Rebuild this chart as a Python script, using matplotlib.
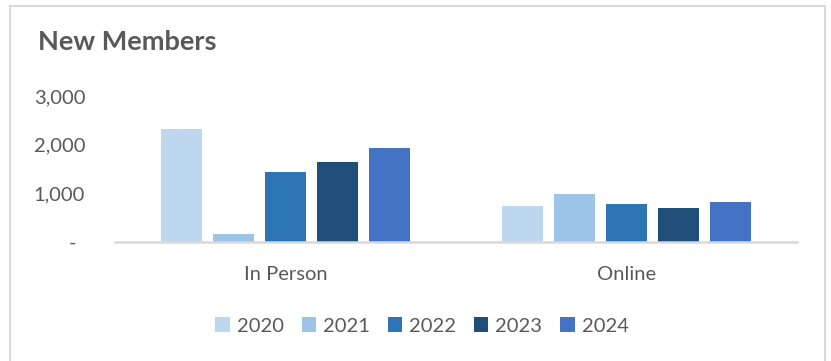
import matplotlib.pyplot as plt
import matplotlib.transforms as mtransforms
import numpy as np
from matplotlib.patches import Rectangle

# donnees
categories = ['In Person', 'Online']
years = ['2020', '2021', '2022', '2023', '2024']
members = {
    '2020': [2320, 740],
    '2021': [165, 980],
    '2022': [1440, 775],
    '2023': [1640, 700],
    '2024': [1930, 830],
}
colors = ['#BDD7EE', '#9DC3E6', '#2E75B6', '#1F4E79', '#4472C4']
yticks = [0, 1000, 2000, 3000]

plt.rcParams['font.family'] = ['Lato', 'DejaVu Sans']
gray = '#595959'
fs = 14.5

W, H = 831, 361
fig = plt.figure(figsize=(W / 100, H / 100), dpi=100)

# cadre du graphique
fig.patches.append(Rectangle((10 / W, -0.05), 815 / W, 1.05 - 6 / H,
                             transform=fig.transFigure, fill=False,
                             edgecolor='#D9D9D9', linewidth=1.5))

ax = fig.add_axes([115 / W, 119 / H, 682 / W, 146 / H])

x = np.arange(len(categories))
slot = 0.1525
width = 0.123
for i, year in enumerate(years):
    offset = (i - 2) * slot
    ax.bar(x + offset, members[year], width, color=colors[i], label=year)

ax.set_xlim(-0.5, 1.5)
ax.set_ylim(0, 3000)
ax.set_xticks(x)
ax.set_xticklabels(categories)
ax.set_yticks(yticks)
ax.set_yticklabels(['-' if v == 0 else f'{v:,}' for v in yticks])
ax.tick_params(axis='both', length=0, labelsize=fs, labelcolor=gray)
ax.tick_params(axis='x', pad=17)
ax.tick_params(axis='y', pad=21.5)
for s in ['top', 'right', 'left']:
    ax.spines[s].set_visible(False)
ax.spines['bottom'].set_color('#D9D9D9')
ax.spines['bottom'].set_linewidth(1.8)

# le tiret du zero est decale vers la gauche (format comptable)
zero_lbl = ax.get_yticklabels()[0]
zero_lbl.set_transform(zero_lbl.get_transform() +
                       mtransforms.ScaledTranslation(-9 / 100, 0, fig.dpi_scale_trans))

fig.text(38 / W, 1 - 42 / H, 'New Members', fontsize=19.5, fontweight='bold',
         color=gray, va='center', ha='left')

leg = fig.legend(loc='center', bbox_to_anchor=(422 / W, 1 - 326 / H), ncol=5,
                 frameon=False, fontsize=fs, handlelength=0.7, handleheight=0.7,
                 handletextpad=0.35, columnspacing=0.9)
for t in leg.get_texts():
    t.set_color(gray)

fig.savefig('out.png', dpi=100)
